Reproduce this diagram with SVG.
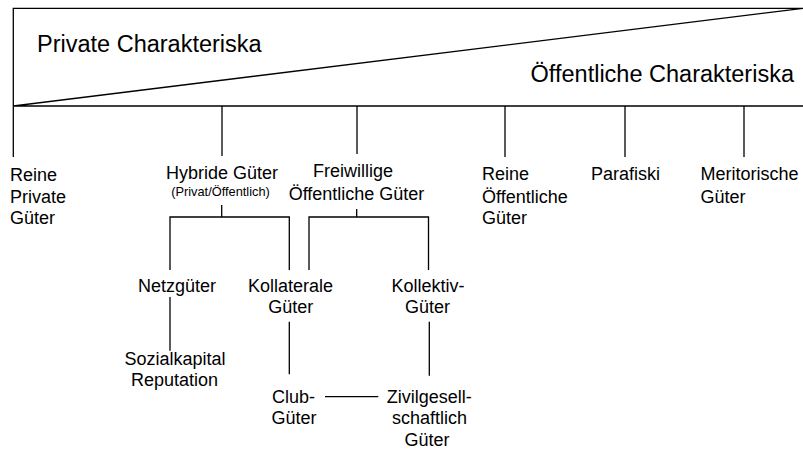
<svg xmlns="http://www.w3.org/2000/svg" width="803" height="450" viewBox="0 0 803 450">
<style>
text{font-family:"Liberation Sans",Arial,sans-serif;fill:#000;font-size:18px}
.big{font-size:23.5px}
.small{font-size:12.8px}
.m{text-anchor:middle}
line,polyline,path{stroke:#000;stroke-width:1.3;fill:none}
</style>
<rect x="0" y="0" width="803" height="450" fill="#fff"/>
<g id="header">
<path d="M13.3,106 V8.3 H810 M13.3,106 H810 M13.3,106 L803,8.3"/>
<text class="big" x="37" y="51.7">Private Charakteriska</text>
<text class="big" x="794" y="81.7" text-anchor="end">Öffentliche Charakteriska</text>
</g>
<g id="connectors">
<line x1="13.3" y1="106" x2="13.3" y2="157"/>
<line x1="222" y1="106" x2="222" y2="156"/>
<line x1="357" y1="106" x2="357" y2="154"/>
<line x1="505" y1="106" x2="505" y2="157"/>
<line x1="625" y1="106" x2="625" y2="157"/>
<line x1="744" y1="106" x2="744" y2="157"/>
<line x1="221.7" y1="205" x2="221.7" y2="217"/>
<polyline points="170,270 170,217 289.3,217 289.3,270"/>
<line x1="356.7" y1="209" x2="356.7" y2="217"/>
<polyline points="309,270 309,217 428.5,217 428.5,270"/>
<line x1="170" y1="297" x2="170" y2="350.7"/>
<line x1="289.3" y1="321.7" x2="289.3" y2="374.3"/>
<line x1="429.3" y1="321.7" x2="429.3" y2="375.7"/>
<line x1="325" y1="396.7" x2="378.3" y2="396.7"/>
</g>
<g id="reine-private"><text x="10" y="181">Reine</text><text x="10" y="203">Private</text><text x="10" y="224">Güter</text></g>
<g id="hybride"><text class="m" x="222" y="179">Hybride Güter</text><text class="small m" x="220.5" y="196">(Privat/Öffentlich)</text></g>
<g id="freiwillige"><text class="m" x="353" y="177">Freiwillige</text><text class="m" x="356.5" y="200">Öffentliche Güter</text></g>
<g id="reine-oeffentliche"><text x="482" y="180">Reine</text><text x="482" y="202.7">Öffentliche</text><text x="482" y="224">Güter</text></g>
<g id="parafiski"><text x="591" y="180">Parafiski</text></g>
<g id="meritorische"><text x="700.5" y="180">Meritorische</text><text x="700.5" y="202.7">Güter</text></g>
<g id="netzgueter"><text class="m" x="177" y="291.7">Netzgüter</text></g>
<g id="kollaterale"><text class="m" x="290.5" y="291.7">Kollaterale</text><text class="m" x="290.7" y="312.7">Güter</text></g>
<g id="kollektiv"><text class="m" x="428" y="291.7">Kollektiv-</text><text class="m" x="427.5" y="312.7">Güter</text></g>
<g id="sozialkapital"><text class="m" x="175" y="365">Sozialkapital</text><text class="m" x="174.5" y="386">Reputation</text></g>
<g id="club"><text class="m" x="293.5" y="402.7">Club-</text><text class="m" x="294" y="424">Güter</text></g>
<g id="zivil"><text class="m" x="429.3" y="402.7">Zivilgesell-</text><text class="m" x="429.5" y="424">schaftlich</text><text class="m" x="427" y="445.7">Güter</text></g>
</svg>
